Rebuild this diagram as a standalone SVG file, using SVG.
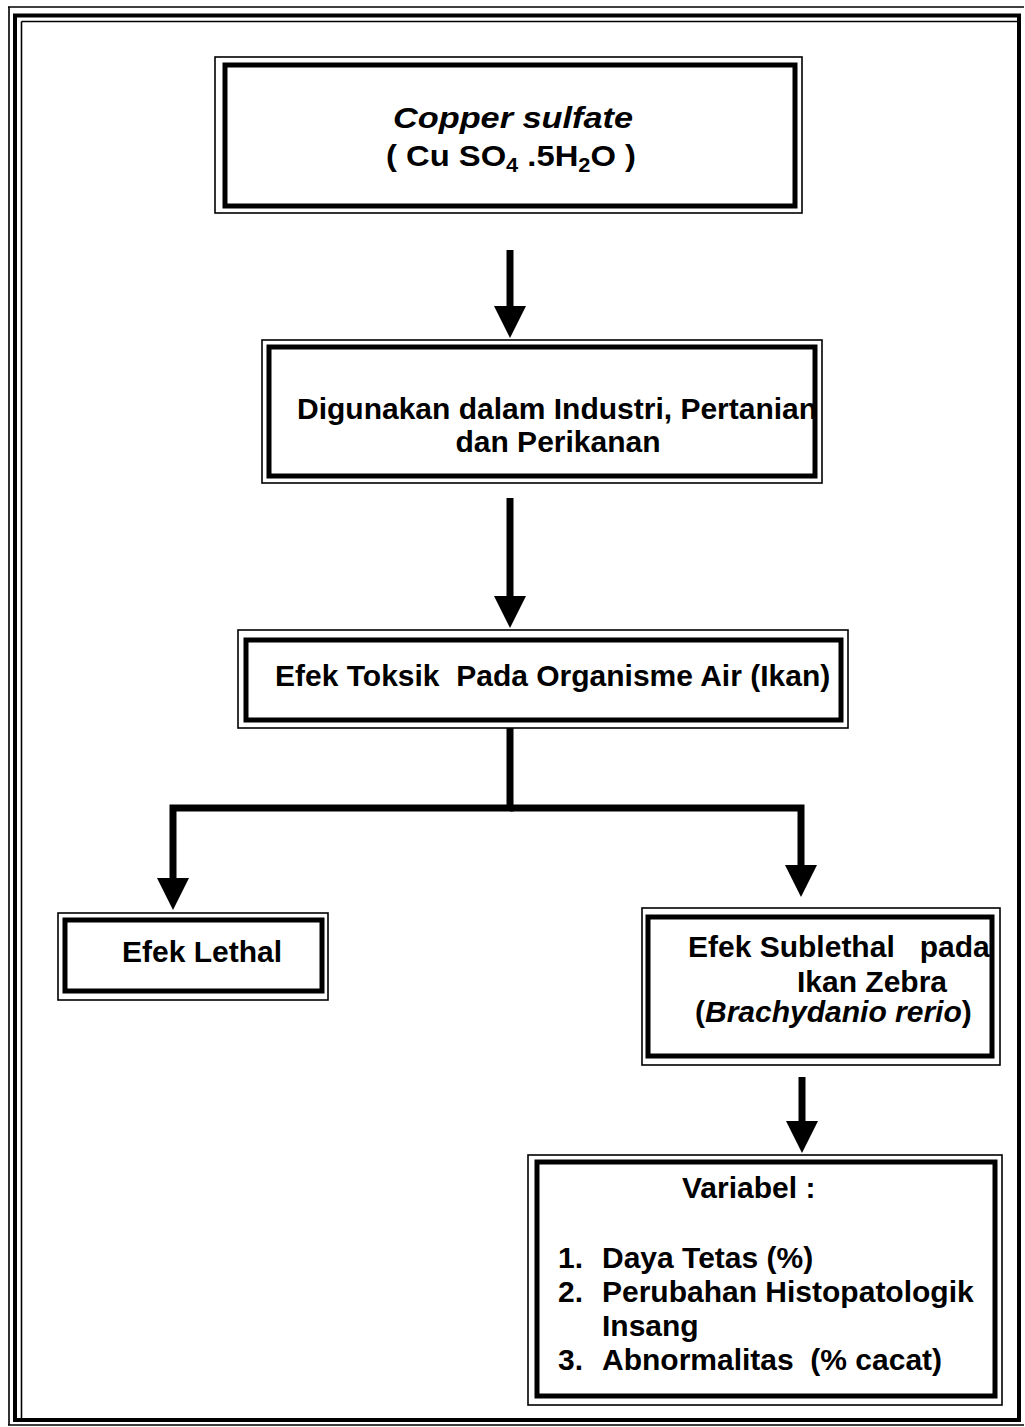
<svg xmlns="http://www.w3.org/2000/svg" width="1025" height="1427" viewBox="0 0 1025 1427">
<style>
.thin{fill:none;stroke:#000;stroke-width:1.6}
.thick{fill:none;stroke:#000;stroke-width:5}
.conn{fill:none;stroke:#000;stroke-width:7;stroke-linejoin:miter}
text{font-family:"Liberation Sans",Arial,Helvetica,sans-serif;font-weight:bold;font-size:30px;fill:#000}
.it{font-style:italic}
</style>
<defs>
<marker id="ah" markerUnits="userSpaceOnUse" viewBox="0 -16 32 32" markerWidth="32" markerHeight="32" refX="0" refY="0" orient="auto">
<path d="M0,-16 L32,0 L0,16 Z" fill="#000"/>
</marker>
</defs>
<rect x="0" y="0" width="1025" height="1427" fill="#fff"/>
<g id="page-border">
<path class="thin" d="M8,7 H1024 M9,7 V1425 M8,1425 H1024"/>
<path d="M15,15.5 H1019 V1420 H15 Z" fill="none" stroke="#000" stroke-width="4"/>
<path class="thin" d="M21.5,21.5 H1017 M21.5,21.5 V1419"/>
</g>
<g id="connectors">
<path class="conn" d="M510,250 V306" marker-end="url(#ah)"/>
<path class="conn" d="M510,498 V596" marker-end="url(#ah)"/>
<path class="conn" d="M510,728 V808 H173 V878" marker-end="url(#ah)"/>
<path class="conn" d="M510,808 H801 V865" marker-end="url(#ah)"/>
<path class="conn" d="M802,1077 V1121" marker-end="url(#ah)"/>
</g>
<g id="node-copper">
<rect class="thin" x="215" y="57" width="587" height="156"/>
<rect class="thick" x="225" y="65" width="570" height="141"/>
<text class="it" x="393" y="128" font-size="34" textLength="240" lengthAdjust="spacingAndGlyphs">Copper sulfate</text>
<text x="386" y="166" font-size="33" font-weight="normal" textLength="250" lengthAdjust="spacingAndGlyphs">( Cu SO<tspan font-size="20" dy="6">4</tspan><tspan dy="-6"> .5H</tspan><tspan font-size="20" dy="6">2</tspan><tspan dy="-6">O )</tspan></text>
</g>
<g id="node-digunakan">
<rect class="thin" x="262" y="340" width="560" height="143"/>
<rect class="thick" x="269" y="347" width="546" height="129"/>
<text x="297" y="419">Digunakan dalam Industri, Pertanian</text>
<text x="558" y="452" text-anchor="middle">dan Perikanan</text>
</g>
<g id="node-toksik">
<rect class="thin" x="238" y="630" width="610" height="98"/>
<rect class="thick" x="246" y="640" width="595" height="80"/>
<text x="275" y="686" xml:space="preserve">Efek Toksik  Pada Organisme Air (Ikan)</text>
</g>
<g id="node-lethal">
<rect class="thin" x="58" y="913" width="270" height="87"/>
<rect class="thick" x="65" y="920" width="257" height="71"/>
<text x="122" y="962">Efek Lethal</text>
</g>
<g id="node-sublethal">
<rect class="thin" x="642" y="908" width="358" height="157"/>
<rect class="thick" x="648" y="917" width="344" height="139"/>
<text x="688" y="957" font-size="29" xml:space="preserve">Efek Sublethal   pada</text>
<text x="797" y="992" font-size="29">Ikan Zebra</text>
<text x="695" y="1022" font-size="29">(<tspan class="it">Brachydanio rerio</tspan>)</text>
</g>
<g id="node-variabel">
<rect class="thin" x="528" y="1155" width="474" height="250"/>
<rect class="thick" x="537" y="1162" width="458" height="234"/>
<text x="682" y="1198">Variabel :</text>
<text x="558" y="1268">1.</text>
<text x="602" y="1268">Daya Tetas (%)</text>
<text x="558" y="1302">2.</text>
<text x="602" y="1302">Perubahan Histopatologik</text>
<text x="602" y="1336">Insang</text>
<text x="558" y="1370">3.</text>
<text x="602" y="1370" xml:space="preserve">Abnormalitas  (% cacat)</text>
</g>
</svg>
